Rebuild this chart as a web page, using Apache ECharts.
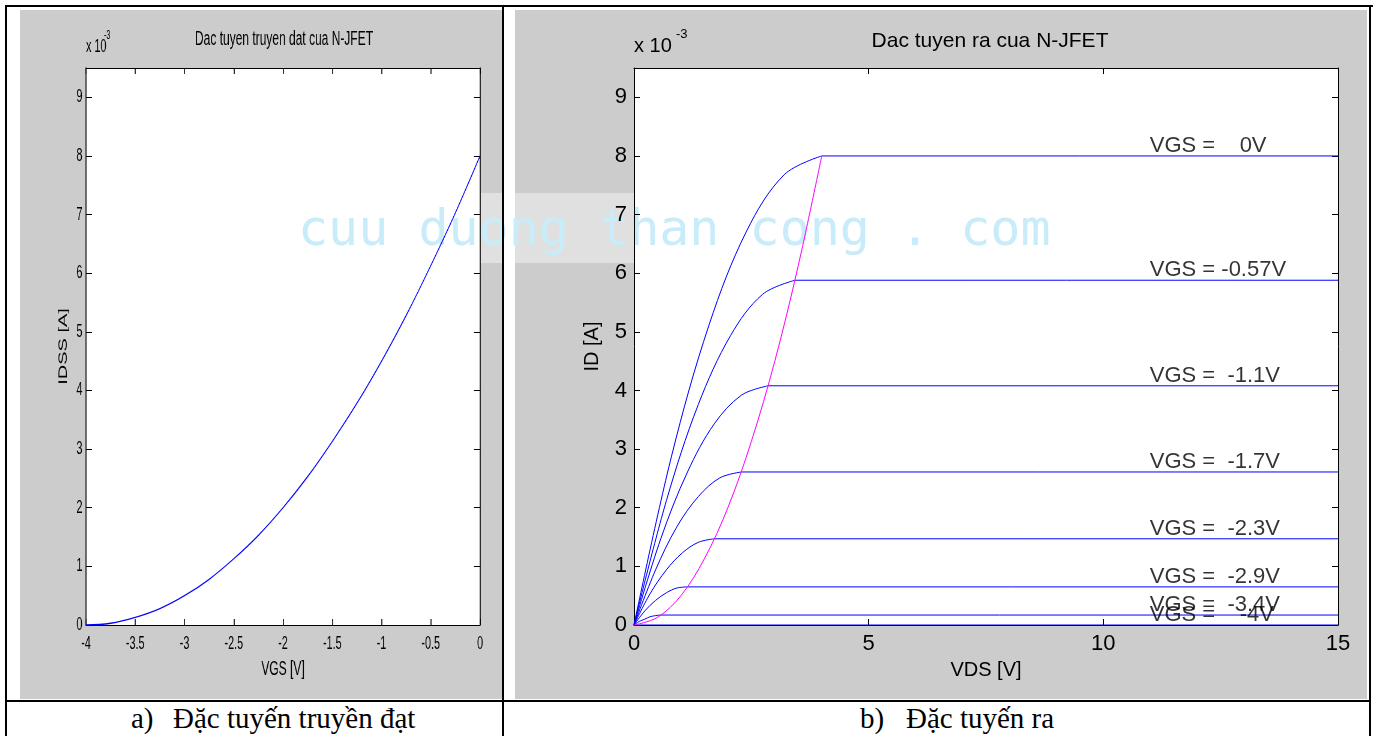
<!DOCTYPE html>
<html>
<head>
<meta charset="utf-8">
<script src="https://cdn.jsdelivr.net/npm/echarts@6/dist/echarts.min.js"></script>
<style>
html,body{margin:0;padding:0;background:#fff;width:1374px;height:736px;overflow:hidden;}
body{position:relative;}
.bl{position:absolute;background:#000;}
.gray{position:absolute;background:#cccccc;}
.plot{position:absolute;background:#ffffff;}
#band{position:absolute;background:rgba(255,255,255,0.4);}
#wm{position:absolute;font-family:"DejaVu Sans Mono",monospace;font-size:50px;line-height:50px;color:#c8ecf9;white-space:pre;}
#left{position:absolute;transform-origin:0 0;}
#right{position:absolute;}
.cap{position:absolute;font-family:"Liberation Serif","Times New Roman",serif;font-size:29px;line-height:29px;color:#000;white-space:pre;}
</style>
</head>
<body>
<div class="gray" id="gL"></div>
<div class="gray" id="gR"></div>
<div class="plot" id="pL"></div>
<div class="plot" id="pR"></div>
<div id="band"></div>
<div id="wm">cuu duong than cong . com</div>
<div id="left"></div>
<div id="right"></div>
<div class="bl" style="left:5px;top:5px;width:1368px;height:2px;"></div>
<div class="bl" style="left:5px;top:5px;width:2px;height:731px;"></div>
<div class="bl" style="left:502px;top:5px;width:2px;height:731px;"></div>
<div class="bl" style="left:1369px;top:5px;width:2px;height:731px;"></div>
<div class="bl" style="left:5px;top:700px;width:1366px;height:2px;"></div>
<div class="cap" style="left:131px;top:704px;">a)</div>
<div class="cap" style="left:173px;top:704px;">Đặc tuyến truyền đạt</div>
<div class="cap" style="left:860px;top:704px;">b)</div>
<div class="cap" style="left:906px;top:704px;">Đặc tuyến ra</div>
<script>
// ---------------- DATA (ID values in units of 1e-3 A) ----------------
// a) transfer characteristic
const VGS_T = [-4, -3.75, -3.5, -3.25, -3, -2.75, -2.5, -2.25, -2, -1.75, -1.5, -1.25, -1, -0.75, -0.5, -0.25, 0];
const IDSS_T = [0, 0.03, 0.13, 0.28, 0.5, 0.78, 1.13, 1.53, 2, 2.53, 3.13, 3.78, 4.5, 5.28, 6.13, 7.03, 8];
const X_TICKS_T = { min: -4, max: 0, step: 0.5 };
const Y_TICKS = { min: 0, max: 9.5, step: 1 };

// b) output characteristics: ohmic part of each curve [VDS, ID]
const OUT_VGS_0    = [[0,0],[0.8,2.88],[1.6,5.12],[2.4,6.72],[3.2,7.68],[4.0,8.0]];
const OUT_VGS_057  = [[0,0],[0.69,2.12],[1.37,3.76],[2.06,4.94],[2.74,5.64],[3.43,5.88]];
const OUT_VGS_11   = [[0,0],[0.57,1.47],[1.14,2.61],[1.71,3.43],[2.29,3.92],[2.86,4.08]];
const OUT_VGS_17   = [[0,0],[0.46,0.94],[0.91,1.67],[1.37,2.19],[1.83,2.51],[2.29,2.61]];
const OUT_VGS_23   = [[0,0],[0.34,0.53],[0.69,0.94],[1.03,1.23],[1.37,1.41],[1.71,1.47]];
const OUT_VGS_29   = [[0,0],[0.23,0.24],[0.46,0.42],[0.69,0.55],[0.91,0.63],[1.14,0.65]];
const OUT_VGS_34   = [[0,0],[0.11,0.06],[0.23,0.10],[0.34,0.14],[0.46,0.16],[0.57,0.17]];
const OUT_VGS_4    = [[0,0]];
const SAT_BOUNDARY = [[0,0],[0.5,0.13],[1,0.5],[1.5,1.13],[2,2],[2.5,3.13],[3,4.5],[3.5,6.13],[4,8]];
const VGS_LABELS = ['VGS =    0V','VGS = -0.57V','VGS =  -1.1V','VGS =  -1.7V','VGS =  -2.3V','VGS =  -2.9V','VGS =  -3.4V','VGS =    -4V'];
const LABEL_VDS = 11;
const VDS_MAX = 15;
const X_TICKS_O = { min: 0, max: 15, step: 5 };

// ---------------- LAYOUT ----------------
const FONT = '"Liberation Sans", Arial, Helvetica, sans-serif';
const SX = 0.6;                 // horizontal squeeze of panel a)
const L = { x: 20, y: 10, w: 804, h: 690, gl: 110, gr: 37.33, gt: 58, gb: 75 };
const R = { x: 515, y: 10, w: 852, h: 690, gl: 119, gr: 29, gt: 58, gb: 75 };

function place(id, x, y, w, h) {
  const e = document.getElementById(id);
  e.style.left = x + 'px'; e.style.top = y + 'px';
  e.style.width = w + 'px'; e.style.height = h + 'px';
}
place('gL', 20, 10, 482, 689);
place('gR', 515, 10, 852, 689);
place('pL', L.x + L.gl * SX, L.y + L.gt, (L.w - L.gl - L.gr) * SX, L.h - L.gt - L.gb);
place('pR', R.x + R.gl, R.y + R.gt, R.w - R.gl - R.gr, R.h - R.gt - R.gb);
place('band', 292, 193, 770, 70);
const wm = document.getElementById('wm'); wm.style.left = '298px'; wm.style.top = '203px';
const lEl = document.getElementById('left');
lEl.style.left = L.x + 'px'; lEl.style.top = L.y + 'px'; lEl.style.width = L.w + 'px'; lEl.style.height = L.h + 'px';
lEl.style.transform = 'scaleX(' + SX + ')';
const rEl = document.getElementById('right');
rEl.style.left = R.x + 'px'; rEl.style.top = R.y + 'px'; rEl.style.width = R.w + 'px'; rEl.style.height = R.h + 'px';

function axes(kind, t, o) {
  const base = {
    type: 'value', min: t.min, max: t.max, interval: t.step,
    splitLine: { show: false },
    axisLine: { show: true, onZero: false, lineStyle: { color: '#000', width: o.lineW } },
    axisTick: { show: true, inside: true, length: o.tickLen, lineStyle: { color: '#000', width: o.tickW } }
  };
  const main = Object.assign({}, base, {
    position: kind === 'x' ? 'bottom' : 'left',
    axisLabel: { show: true, color: '#000', fontFamily: FONT, fontSize: o.labelSize, margin: o.margin,
                 showMinLabel: true, showMaxLabel: o.showMax },
    name: o.name, nameLocation: 'middle', nameGap: o.nameGap, nameRotate: kind === 'y' ? 90 : 0,
    nameTextStyle: { color: '#000', fontFamily: FONT, fontSize: o.nameSize }
  });
  const mirror = Object.assign({}, base, { position: kind === 'x' ? 'top' : 'right', axisLabel: { show: false } });
  return [main, mirror];
}

// ---------------- Panel a) ----------------
const chartL = echarts.init(lEl, null, { renderer: 'canvas' });
chartL.setOption({
  animation: false,
  backgroundColor: 'transparent',
  title: { text: 'Dac tuyen truyen dat cua N-JFET', left: 435, top: 14, textAlign: 'center',
           textStyle: { color: '#000', fontFamily: FONT, fontSize: 20, fontWeight: 'normal' } },
  grid: { left: L.gl, right: L.gr, top: L.gt, bottom: L.gb, show: false, outerBoundsMode: 'none' },
  xAxis: axes('x', X_TICKS_T, { lineW: 1, tickW: 1.6, tickLen: 6, labelSize: 18, margin: 10, showMax: true,
                                name: 'VGS [V]', nameGap: 34, nameSize: 20 }),
  yAxis: axes('y', Y_TICKS, { lineW: 1.6, tickW: 1, tickLen: 10, labelSize: 18, margin: 6, showMax: false,
                              name: 'IDSS [A]', nameGap: 28, nameSize: 20 }),
  graphic: [
    { type: 'text', left: 110, top: 28, style: { text: 'x 10', fontFamily: FONT, fontSize: 18, fill: '#000' } },
    { type: 'text', left: 140, top: 20, style: { text: '-3', fontFamily: FONT, fontSize: 12, fill: '#000' } }
  ],
  series: [{
    type: 'line', data: VGS_T.map((v, i) => [v, IDSS_T[i]]), smooth: 0.4, symbol: 'none', clip: false,
    lineStyle: { color: '#0000ff', width: 1.4 }, z: 3
  }]
});

// ---------------- Panel b) ----------------
const OUT_CURVES = [OUT_VGS_0, OUT_VGS_057, OUT_VGS_11, OUT_VGS_17, OUT_VGS_23, OUT_VGS_29, OUT_VGS_34, OUT_VGS_4];
const seriesR = [];
const blue = { color: '#0000ff', width: 1 };
OUT_CURVES.forEach(c => {
  if (c.length > 1) {
    seriesR.push({ type: 'line', data: c, smooth: 0.35, symbol: 'none', clip: false, lineStyle: blue, z: 3 });
  }
  const last = c[c.length - 1];
  seriesR.push({ type: 'line', data: [last, [VDS_MAX, last[1]]], symbol: 'none', clip: false, lineStyle: blue, z: 3 });
});
seriesR.push({ type: 'line', data: SAT_BOUNDARY, smooth: 0.35, symbol: 'none', clip: false,
               lineStyle: { color: '#ff00ff', width: 1 }, z: 4 });
seriesR.push({
  type: 'scatter', symbolSize: 1, itemStyle: { color: 'rgba(0,0,0,0)' }, z: 5, clip: false,
  data: OUT_CURVES.map((c, i) => ({ name: VGS_LABELS[i], value: [LABEL_VDS, c[c.length - 1][1]] })),
  label: { show: true, formatter: '{b}', position: [0, 0], align: 'left', verticalAlign: 'bottom',
           color: '#000', fontFamily: FONT, fontSize: 22, lineHeight: 19 }
});

const chartR = echarts.init(rEl, null, { renderer: 'canvas' });
chartR.setOption({
  animation: false,
  backgroundColor: 'transparent',
  title: { text: 'Dac tuyen ra cua N-JFET', left: 470, top: 16, textAlign: 'center',
           textStyle: { color: '#000', fontFamily: FONT, fontSize: 21, fontWeight: 'normal' } },
  grid: { left: R.gl, right: R.gr, top: R.gt, bottom: R.gb, show: false, outerBoundsMode: 'none' },
  xAxis: axes('x', X_TICKS_O, { lineW: 1, tickW: 1, tickLen: 6, labelSize: 22, margin: 8, showMax: true,
                                name: 'VDS [V]', nameGap: 35, nameSize: 20 }),
  yAxis: axes('y', Y_TICKS, { lineW: 1, tickW: 1, tickLen: 6, labelSize: 22, margin: 7, showMax: false,
                              name: 'ID [A]', nameGap: 32, nameSize: 20 }),
  graphic: [
    { type: 'text', left: 119, top: 26, style: { text: 'x 10', fontFamily: FONT, fontSize: 20, fill: '#000' } },
    { type: 'text', left: 161, top: 18, style: { text: '-3', fontFamily: FONT, fontSize: 13, fill: '#000' } }
  ],
  series: seriesR
});
</script>
</body>
</html>
